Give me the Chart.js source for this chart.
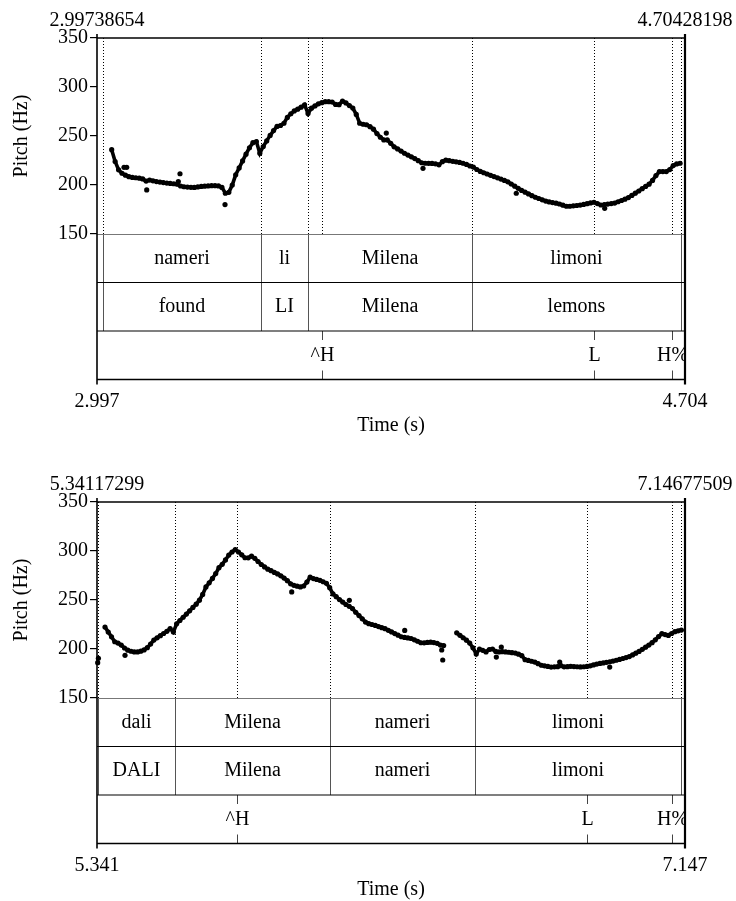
<!DOCTYPE html>
<html>
<head>
<meta charset="utf-8">
<script src="https://cdn.jsdelivr.net/npm/chart.js@4.4.1/dist/chart.umd.min.js"></script>
<style>
  html, body { margin: 0; padding: 0; background: #fff; }
  #wrap { position: relative; width: 736px; height: 901px; }
  canvas { position: absolute; left: 0; }
</style>
</head>
<body>
<div id="wrap">
  <canvas id="top" width="736" height="450" style="top:0"></canvas>
  <canvas id="bottom" width="736" height="451" style="top:450px"></canvas>
</div>
<script>
const FONT = '"Liberation Serif", "DejaVu Serif", "Times New Roman", serif';
const frameStep = 0.01;
const pitchTicks = [150, 200, 250, 300, 350];

// ---- panel 1 ----
const topStart = 2.99738654;
const topEnd = 4.70428198;
const topFirstFrame = 3.040;
const topPitch = [236, 224, 215.5, 212, 210, 208.5, 207.7, 207.4, 207, 206.2,
  204, 205, 204.3, 203.5, 203, 202.5, 202, 201.6, 201.3, 200.8,
  199, 198.2, 197.9, 197.6, 197.5, 198, 198.5, 198.8, 199.1, 199.3,
  199.3, 199.1, 197.5, 191.6, 192.5, 200, 210.4, 217.4, 224.6, 231.5,
  238, 243.2, 244.4, 232.5, 239.3, 245, 250.6, 255.5, 259.8, 260.7,
  263, 269, 272.7, 275.6, 277.4, 279.4, 281.8, 273, 278.4, 280.7,
  282.8, 284, 285, 285, 284.7, 282.2, 282, 285.5, 283.8, 281,
  278.5, 272, 263, 262, 261.5, 259.5, 257, 252.5, 248.7, 246,
  246, 242.5, 239, 236.8, 234.6, 232.4, 230.5, 228.8, 227, 224.8,
  222.7, 222.2, 222.1, 222, 221.6, 220.6, 223.8, 225.3, 224.8, 224.2,
  223.6, 223, 222.2, 221, 219.4, 218.3, 215.8, 213.9, 212.5, 211.2,
  209.9, 208.6, 207.3, 206, 204.7, 203.2, 201, 198.8, 196.6, 194.5,
  192.7, 190.9, 189.1, 187.5, 186.2, 184.9, 183.6, 182.7, 182.1, 181.5,
  180.6, 179.4, 178.3, 178.3, 178.7, 179.1, 179.5, 180.2, 180.9, 181.7,
  182.4, 181, 179.6, 180.1, 180.5, 181, 181.6, 182.9, 184.2, 185.5,
  187.2, 189.4, 191.7, 193.9, 196.2, 198.5, 200.8, 204.7, 209.6, 213.7,
  213.7, 213.7, 215.7, 219.8, 221.5, 222.2];
const topStrayTimes = [3.0758, 3.0836, 3.1417, 3.2334, 3.2383, 3.3690, 3.8372, 3.9437, 4.2145, 4.4711];
const topStrayPitch = [218, 218, 195, 203.5, 211.5, 180, 253, 217, 191.6, 176.2];
const topBounds = [3.0148, 3.4735, 3.6099, 4.0859, 4.6926];
const topWords = ["nameri", "li", "Milena", "limoni"];
const topGloss = ["found", "LI", "Milena", "lemons"];
const topToneTimes = [3.6505, 4.4401, 4.6665];
const topTones = ["^H", "L", "H%"];

// ---- panel 2 ----
const botStart = 5.34117299;
const botEnd = 7.14677509;
const botFirstFrame = 5.3657;
const botPitch = [222.4, 217.3, 212.4, 207.4, 206, 204, 201, 198.8, 197.7, 197,
  197, 197.8, 199.1, 201.4, 205.1, 209.1, 211.4, 213.6, 215.8, 218,
  220.8, 217.3, 225.7, 229.1, 232.4, 235.6, 239, 242.4, 245.7, 249.8,
  255.7, 263.3, 267.5, 272, 277, 283, 286.4, 290.9, 295.8, 299,
  301.4, 299, 296.1, 293.1, 293, 294.7, 292.5, 289.3, 286.2, 283.8,
  281.5, 279.9, 278.1, 276.6, 274.7, 272.4, 269.7, 266.5, 265, 264.1,
  263.3, 264.3, 268.3, 273.3, 271.9, 271, 270.1, 268.6, 267, 262.6,
  256.2, 253.4, 250.4, 247.9, 245.4, 243.5, 241.3, 237.5, 234.1, 230.8,
  227.5, 225.8, 225, 224.1, 222.9, 221.8, 220.7, 219.1, 217.4, 215.7,
  214.1, 212.5, 211.8, 211.3, 210.7, 209.4, 207.9, 206.4, 206.3, 206.7,
  207, 206.6, 205.8, 204, 203.5, null, null, null, 216.5, 214,
  211.5, 209, 206, 201.2, 195, 200, 198.6, 197, 199.5, 200,
  197.5, 197, 197.3, 197, 196.7, 196.3, 195.8, 194.7, 193.2, 189.1,
  188.3, 187.5, 186.7, 185, 183.4, 182.8, 182.2, 181.6, 181.8, 182,
  183, 181.8, 182, 182.3, 182.1, 181.9, 181.7, 181.9, 182.2, 182.8,
  183.7, 184.6, 185.3, 185.8, 186.4, 187, 187.7, 188.5, 189.4, 190.3,
  191.2, 192.3, 194, 195.7, 197.5, 199.7, 201.9, 204, 206.5, 209.4,
  212.7, 215.6, 214.7, 213.9, 215.8, 217.7, 218.5, 219.3];
const botStrayTimes = [5.3433, 5.3455, 5.4272, 5.9391, 6.1160, 6.2861, 6.3997, 6.4028, 6.5674, 6.5827, 6.7620, 6.9156];
const botStrayPitch = [186, 190.5, 193.5, 258.2, 249.7, 219, 199, 188.8, 191.8, 202, 186.7, 181.6];
const botBounds = [5.3442, 5.5807, 6.0567, 6.5019, 7.1345];
const botWords = ["dali", "Milena", "nameri", "limoni"];
const botGloss = ["DALI", "Milena", "nameri", "limoni"];
const botToneTimes = [5.7711, 6.8459, 7.1069];
const botTones = ["^H", "L", "H%"];

const TIER_H = 48.5;

// textgrid, frame and time labels drawn around the pitch area
const textGridPlugin = {
  id: 'textgrid',
  beforeDatasetsDraw(chart, args, opts) {
    const ctx = chart.ctx;
    const a = chart.chartArea;
    const xs = chart.scales.x;
    ctx.save();
    ctx.strokeStyle = '#000';
    ctx.lineWidth = 1;
    ctx.setLineDash([1, 2]);
    [...opts.bounds, ...opts.toneTimes].forEach(t => {
      const x = Math.round(xs.getPixelForValue(t)) + 0.5;
      ctx.beginPath();
      ctx.moveTo(x, a.top);
      ctx.lineTo(x, a.bottom);
      ctx.stroke();
    });
    ctx.restore();
  },
  afterDraw(chart, args, opts) {
    const ctx = chart.ctx;
    const a = chart.chartArea;
    const xs = chart.scales.x;
    const t1 = a.bottom, t2 = a.bottom + TIER_H, t3 = a.bottom + 2 * TIER_H, t4 = a.bottom + 3 * TIER_H;
    ctx.save();

    const line = (x1, y1, x2, y2, color, w) => {
      ctx.strokeStyle = color;
      ctx.lineWidth = w;
      ctx.beginPath();
      ctx.moveTo(x1, y1);
      ctx.lineTo(x2, y2);
      ctx.stroke();
    };

    // interval tiers
    ctx.font = `20px ${FONT}`;
    ctx.fillStyle = '#000';
    ctx.textAlign = 'center';
    ctx.textBaseline = 'middle';
    [[opts.words, t1], [opts.gloss, t2]].forEach(([labels, yTop]) => {
      opts.bounds.forEach(t => {
        const x = Math.round(xs.getPixelForValue(t)) + 0.5;
        line(x, yTop, x, yTop + TIER_H, '#555', 1);
      });
      labels.forEach((lab, i) => {
        const xa = xs.getPixelForValue(opts.bounds[i]);
        const xb = xs.getPixelForValue(opts.bounds[i + 1]);
        ctx.fillText(lab, (xa + xb) / 2, yTop + TIER_H / 2);
      });
    });

    // point tier, labels clipped to the tier box
    ctx.save();
    ctx.beginPath();
    ctx.rect(a.left, t3, a.right - a.left, TIER_H);
    ctx.clip();
    opts.toneTimes.forEach((t, i) => {
      const x = Math.round(xs.getPixelForValue(t)) + 0.5;
      line(x, t3, x, t3 + 9, '#444', 1);
      line(x, t4 - 9, x, t4, '#444', 1);
      ctx.fillText(opts.tones[i], x, t3 + TIER_H / 2);
    });
    ctx.restore();

    // frame
    line(a.left, t1 + 0.5, a.right, t1 + 0.5, '#777', 1);
    line(a.left, t2, a.right, t2, '#000', 1.2);
    line(a.left, t3, a.right, t3, '#000', 1.2);
    line(a.left, t4, a.right, t4, '#000', 1.6);
    line(a.left, a.top, a.right, a.top, '#000', 1.6);
    line(a.left, a.top - 4, a.left, t4 + 5, '#000', 1.6);
    line(a.right, a.top - 4, a.right, t4 + 5, '#000', 2.2);

    // time labels
    ctx.textBaseline = 'alphabetic';
    const x0 = xs.getPixelForValue(xs.min);
    const x1 = xs.getPixelForValue(xs.max);
    ctx.fillText(xs.min.toFixed(8), x0, a.top - 12.5);
    ctx.fillText(xs.max.toFixed(8), x1, a.top - 12.5);
    ctx.fillText(xs.min.toFixed(3), x0, t4 + 27.5);
    ctx.fillText(xs.max.toFixed(3), x1, t4 + 27.5);
    ctx.fillText('Time (s)', (x0 + x1) / 2, t4 + 51.5);
    ctx.restore();
  }
};

function framePoints(first, values) {
  return values.map((v, i) => ({ x: first + i * frameStep, y: v }));
}

function makePanel(id, p) {
  const ctx = document.getElementById(id).getContext('2d');
  const stray = p.strayTimes.map((t, i) => ({ x: t, y: p.strayPitch[i] }));
  return new Chart(ctx, {
    type: 'scatter',
    data: {
      datasets: [
        {
          data: framePoints(p.firstFrame, p.pitch),
          showLine: true, spanGaps: false, borderColor: '#000', borderWidth: 3.6,
          pointRadius: 2.6, pointBackgroundColor: '#000', pointBorderWidth: 0, clip: false
        },
        { data: stray, pointRadius: 2.6, pointBackgroundColor: '#000', pointBorderWidth: 0, clip: false }
      ]
    },
    options: {
      responsive: false,
      animation: false,
      devicePixelRatio: 1,
      events: [],
      layout: { padding: { top: p.padTop, bottom: p.padBottom, left: 0, right: 51 } },
      plugins: {
        legend: { display: false },
        tooltip: { enabled: false },
        textgrid: {
          bounds: p.bounds, words: p.words, gloss: p.gloss,
          toneTimes: p.toneTimes, tones: p.tones
        }
      },
      scales: {
        x: { type: 'linear', min: p.start, max: p.end, display: false },
        y: {
          min: 150, max: 350,
          afterFit(scale) { scale.width = 97; },
          afterBuildTicks(scale) { scale.ticks = pitchTicks.map(v => ({ value: v })); },
          ticks: { color: '#000', padding: 2, font: { family: FONT, size: 20 } },
          grid: { drawOnChartArea: false, color: '#000', tickLength: 7, lineWidth: 1.2 },
          border: { display: false },
          title: { display: true, text: 'Pitch (Hz)', color: '#000', padding: { top: 10, bottom: 0 }, font: { family: FONT, size: 20 } }
        }
      }
    },
    plugins: [textGridPlugin]
  });
}

makePanel('top', {
  start: topStart, end: topEnd, firstFrame: topFirstFrame, pitch: topPitch,
  strayTimes: topStrayTimes, strayPitch: topStrayPitch,
  bounds: topBounds, words: topWords, gloss: topGloss,
  toneTimes: topToneTimes, tones: topTones,
  padTop: 38, padBottom: 216
});

makePanel('bottom', {
  start: botStart, end: botEnd, firstFrame: botFirstFrame, pitch: botPitch,
  strayTimes: botStrayTimes, strayPitch: botStrayPitch,
  bounds: botBounds, words: botWords, gloss: botGloss,
  toneTimes: botToneTimes, tones: botTones,
  padTop: 52, padBottom: 203
});
</script>
</body>
</html>
